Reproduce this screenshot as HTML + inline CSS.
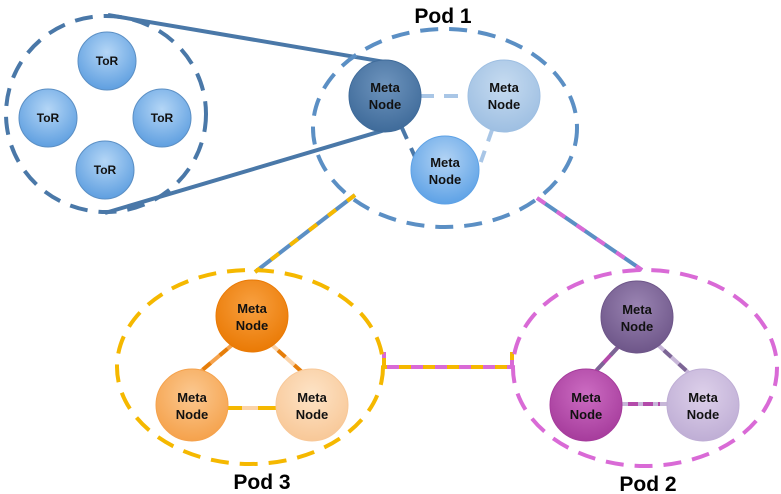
<!DOCTYPE html>
<html><head><meta charset="utf-8"><style>
html,body{margin:0;padding:0;background:#fff;width:781px;height:494px;overflow:hidden}
text{font-family:"Liberation Sans",Arial,sans-serif;font-weight:bold;text-anchor:middle}
</style></head><body>
<svg width="781" height="494" viewBox="0 0 781 494" xmlns="http://www.w3.org/2000/svg">
<defs>
<radialGradient id="gTor" cx="50%" cy="35%" r="65%"><stop offset="0" stop-color="#b4d6f6"/><stop offset="1" stop-color="#5f9fe0"/></radialGradient>
<radialGradient id="gDark" cx="50%" cy="35%" r="65%"><stop offset="0" stop-color="#6e94bd"/><stop offset="1" stop-color="#3f6b9a"/></radialGradient>
<radialGradient id="gLight" cx="50%" cy="35%" r="65%"><stop offset="0" stop-color="#c6dbf0"/><stop offset="1" stop-color="#9ebfe2"/></radialGradient>
<radialGradient id="gMid" cx="50%" cy="35%" r="65%"><stop offset="0" stop-color="#b2d3f4"/><stop offset="1" stop-color="#5ea2e6"/></radialGradient>
<radialGradient id="gO1" cx="50%" cy="35%" r="65%"><stop offset="0" stop-color="#f8a040"/><stop offset="1" stop-color="#ea7a05"/></radialGradient>
<radialGradient id="gO2" cx="50%" cy="35%" r="65%"><stop offset="0" stop-color="#fbc890"/><stop offset="1" stop-color="#f5a24c"/></radialGradient>
<radialGradient id="gO3" cx="50%" cy="35%" r="65%"><stop offset="0" stop-color="#fde3c6"/><stop offset="1" stop-color="#f8c898"/></radialGradient>
<radialGradient id="gP1" cx="50%" cy="35%" r="65%"><stop offset="0" stop-color="#9a84b2"/><stop offset="1" stop-color="#6e5689"/></radialGradient>
<radialGradient id="gP2" cx="50%" cy="35%" r="65%"><stop offset="0" stop-color="#cc6cc2"/><stop offset="1" stop-color="#a63c9c"/></radialGradient>
<radialGradient id="gP3" cx="50%" cy="35%" r="65%"><stop offset="0" stop-color="#ddd0ea"/><stop offset="1" stop-color="#bfaed5"/></radialGradient>
</defs>

<!-- ToR lines -->
<line x1="108" y1="15" x2="385" y2="62" stroke="#4a78a8" stroke-width="4"/>
<line x1="105" y1="213" x2="385" y2="130" stroke="#4a78a8" stroke-width="4"/>

<!-- inter-pod links -->
<line x1="355" y1="195" x2="255" y2="272" stroke="#5b8fc4" stroke-width="4"/>
<line x1="355" y1="195" x2="255" y2="272" stroke="#f5b800" stroke-width="4" stroke-dasharray="10 14"/>
<line x1="537" y1="198" x2="642" y2="270" stroke="#5b8fc4" stroke-width="4"/>
<line x1="537" y1="198" x2="642" y2="270" stroke="#d96ad6" stroke-width="4" stroke-dasharray="10 14"/>
<polyline points="384,352 384,367 512,367 512,352" fill="none" stroke="#f5b800" stroke-width="4"/>
<polyline points="384,352 384,367 512,367 512,352" fill="none" stroke="#d96ad6" stroke-width="4" stroke-dasharray="12 12" stroke-dashoffset="-18"/>

<!-- ellipses -->
<ellipse cx="106" cy="114" rx="100" ry="98" fill="none" stroke="#4a78a8" stroke-width="4" stroke-dasharray="18 11"/>
<ellipse cx="445" cy="128" rx="132" ry="99" fill="none" stroke="#5b8fc4" stroke-width="4" stroke-dasharray="18 11"/>
<ellipse cx="250" cy="367" rx="133" ry="97" fill="none" stroke="#f5b800" stroke-width="4" stroke-dasharray="18 11"/>
<ellipse cx="645" cy="368" rx="132" ry="98" fill="none" stroke="#d96ad6" stroke-width="4" stroke-dasharray="18 11"/>

<!-- pod1 internal links -->
<line x1="420" y1="96" x2="470" y2="96" stroke="#a9c6e6" stroke-width="4" stroke-dasharray="14 10"/>
<line x1="402" y1="128" x2="420" y2="168" stroke="#4a78a8" stroke-width="4" stroke-dasharray="12 10"/>
<line x1="492" y1="130" x2="478" y2="170" stroke="#a9c6e6" stroke-width="4" stroke-dasharray="12 10"/>
<!-- pod3 internal -->
<line x1="232" y1="345" x2="200" y2="372" stroke="#f5a24c" stroke-width="4"/>
<line x1="232" y1="345" x2="200" y2="372" stroke="#e67e0a" stroke-width="4" stroke-dasharray="10 12" stroke-dashoffset="-6"/>
<line x1="272" y1="345" x2="302" y2="372" stroke="#fbd3a8" stroke-width="4"/>
<line x1="272" y1="345" x2="302" y2="372" stroke="#e67e0a" stroke-width="4" stroke-dasharray="10 12" stroke-dashoffset="-8"/>
<line x1="226" y1="408" x2="278" y2="408" stroke="#f5b800" stroke-width="4"/>
<line x1="242" y1="408" x2="258" y2="408" stroke="#fbd3a8" stroke-width="4"/>
<!-- pod2 internal -->
<line x1="620" y1="345" x2="595" y2="372" stroke="#b34aaa" stroke-width="4"/>
<line x1="620" y1="345" x2="595" y2="372" stroke="#7c6595" stroke-width="4" stroke-dasharray="10 10" stroke-dashoffset="-4"/>
<line x1="658" y1="345" x2="690" y2="374" stroke="#c7b6d8" stroke-width="4"/>
<line x1="658" y1="345" x2="690" y2="374" stroke="#7c6595" stroke-width="4" stroke-dasharray="10 10" stroke-dashoffset="-8"/>
<line x1="620" y1="404" x2="668" y2="404" stroke="#c7b6d8" stroke-width="4"/>
<line x1="628" y1="404" x2="660" y2="404" stroke="#b34aaa" stroke-width="4" stroke-dasharray="10 5"/>

<!-- ToR nodes -->
<g stroke="#5b8fc4" stroke-width="1">
<circle cx="107" cy="61" r="29" fill="url(#gTor)"/>
<circle cx="48" cy="118" r="29" fill="url(#gTor)"/>
<circle cx="162" cy="118" r="29" fill="url(#gTor)"/>
<circle cx="105" cy="170" r="29" fill="url(#gTor)"/>
</g>
<g font-size="12" fill="#111">
<text x="107" y="65">ToR</text><text x="48" y="122">ToR</text>
<text x="162" y="122">ToR</text><text x="105" y="174">ToR</text>
</g>

<!-- Meta nodes -->
<g stroke-width="1">
<circle cx="385" cy="96" r="36" fill="url(#gDark)" stroke="#3f6b9a"/>
<circle cx="504" cy="96" r="36" fill="url(#gLight)" stroke="#9ebfe2"/>
<circle cx="445" cy="170" r="34" fill="url(#gMid)" stroke="#5ea2e6"/>
<ellipse cx="252" cy="316" rx="36" ry="36" fill="url(#gO1)" stroke="#ea7a05"/>
<ellipse cx="192" cy="405" rx="36" ry="36" fill="url(#gO2)" stroke="#f5a24c"/>
<ellipse cx="312" cy="405" rx="36" ry="36" fill="url(#gO3)" stroke="#f8c898"/>
<ellipse cx="637" cy="317" rx="36" ry="36" fill="url(#gP1)" stroke="#6e5689"/>
<ellipse cx="586" cy="405" rx="36" ry="36" fill="url(#gP2)" stroke="#a63c9c"/>
<ellipse cx="703" cy="405" rx="36" ry="36" fill="url(#gP3)" stroke="#bfaed5"/>
</g>
<g font-size="13" fill="#111">
<text x="385" y="92">Meta</text><text x="385" y="109">Node</text>
<text x="504" y="92">Meta</text><text x="504" y="109">Node</text>
<text x="445" y="167">Meta</text><text x="445" y="184">Node</text>
<text x="252" y="313">Meta</text><text x="252" y="330">Node</text>
<text x="192" y="402">Meta</text><text x="192" y="419">Node</text>
<text x="312" y="402">Meta</text><text x="312" y="419">Node</text>
<text x="637" y="314">Meta</text><text x="637" y="331">Node</text>
<text x="586" y="402">Meta</text><text x="586" y="419">Node</text>
<text x="703" y="402">Meta</text><text x="703" y="419">Node</text>
</g>

<g font-size="21" fill="#000">
<text x="443" y="23">Pod 1</text>
<text x="262" y="489">Pod 3</text>
<text x="648" y="491">Pod 2</text>
</g>
</svg>
</body></html>
